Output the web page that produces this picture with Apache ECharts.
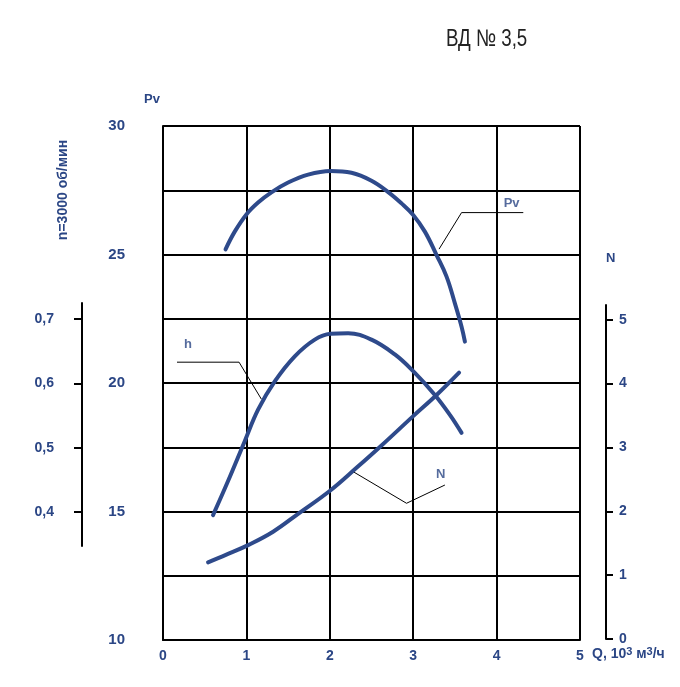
<!DOCTYPE html>
<html><head><meta charset="utf-8">
<script src="https://cdn.jsdelivr.net/npm/echarts@6/dist/echarts.min.js"></script>
<style>html,body{margin:0;padding:0;background:#fff}#c{width:680px;height:687px}</style>
</head><body><div id="c"></div>
<script>
// Data
const qTicks = [0, 1, 2, 3, 4, 5];
const pvTickLabels = [10, 15, 20, 25, 30];
const hTickLabels = [0.4, 0.5, 0.6, 0.7];
const nTickLabels = [0, 1, 2, 3, 4, 5];

const qPv = [0.75, 0.86, 1.0, 1.14, 1.3, 1.5, 1.74, 2.01, 2.26, 2.5, 2.7, 2.86, 3.0, 3.14, 3.28, 3.4, 3.5, 3.58, 3.62];
const pvVals = [25.2, 25.89, 26.56, 27.02, 27.42, 27.8, 28.11, 28.25, 28.18, 27.87, 27.43, 26.99, 26.54, 25.89, 24.98, 24.14, 23.1, 22.19, 21.61];

const qH = [0.6, 0.78, 0.98, 1.14, 1.34, 1.58, 1.82, 2.01, 2.22, 2.5, 2.78, 3.0, 3.26, 3.44, 3.58];
const hVals = [0.395, 0.448, 0.51, 0.559, 0.603, 0.642, 0.668, 0.677, 0.678, 0.668, 0.645, 0.619, 0.582, 0.551, 0.523];

const qN = [0.54, 0.76, 1.02, 1.32, 1.62, 2.01, 2.32, 2.62, 3.0, 3.28, 3.55];
const nVals = [1.2, 1.32, 1.47, 1.68, 1.96, 2.33, 2.68, 3.03, 3.49, 3.82, 4.17];

// leader lines (in Q / Pv coordinates)
const leaderPvQ = [4.32, 3.58, 3.31];
const leaderPvY = [26.63, 26.63, 25.21];
const leaderHQ = [0.168, 0.912, 1.18];
const leaderHY = [20.81, 20.81, 19.37];
const leaderNQ = [3.38, 2.92, 2.28];
const leaderNY = [16.03, 15.32, 16.55];
const curveLabels = ['Pv', 'h', 'N'];
const curveLabelQ = [4.18, 0.3, 3.33];
const curveLabelY = [27.0, 21.5, 16.45];

const BLUE = '#2b4685';
const CURVE = '#2e4a8b';
const FONT = 'Liberation Sans, Arial, sans-serif';

const zip = (a, b) => a.map((v, i) => [v, b[i]]);

const chart = echarts.init(document.getElementById('c'));
const lblStyle = {color: BLUE, fontWeight: 'bold', fontSize: 14, fontFamily: FONT};

chart.setOption({
  animation: false,
  graphic: [{
    type: 'text', x: 63, y: 190, rotation: Math.PI / 2,
    style: {text: 'n=3000 об/мин', fill: BLUE, font: 'bold 14px ' + FONT, align: 'center', verticalAlign: 'middle'}
  }, {
    type: 'text', x: 446, y: 39, scaleX: 0.78,
    style: {text: 'ВД № 3,5', fill: '#222', font: '24px ' + FONT, align: 'left', verticalAlign: 'middle'}
  }],
  grid: [
    {left: 163, right: 100, top: 126, bottom: 47},
    {left: 163, right: 100, top: 303, height: 243},
    {left: 163, right: 100, top: 305, bottom: 48}
  ],
  xAxis: [
    {gridIndex: 0, type: 'value', min: 0, max: 5, interval: 1,
     axisLine: {show: true, lineStyle: {color: '#000', width: 2}},
     axisTick: {show: false},
     splitLine: {show: true, lineStyle: {color: '#000', width: 2}},
     axisLabel: Object.assign({margin: 9, customValues: qTicks}, lblStyle),
     name: '{a|Q, 10}{s|3}{a| м}{s|3}{a|/ч}', nameLocation: 'end', nameGap: 12,
     nameTextStyle: {verticalAlign: 'top', padding: [6, 0, 0, 0],
       rich: {a: {color: BLUE, fontWeight: 'bold', fontSize: 14, fontFamily: FONT},
              s: {color: BLUE, fontWeight: 'bold', fontSize: 11, fontFamily: FONT, verticalAlign: 'top', padding: [0, 0, 6, 0]}}}
    },
    {gridIndex: 1, type: 'value', min: 0, max: 5, show: false},
    {gridIndex: 2, type: 'value', min: 0, max: 5, show: false}
  ],
  yAxis: [
    {gridIndex: 0, type: 'value', min: 10, max: 30, interval: 2.5, position: 'left',
     axisLine: {show: true, onZero: false, lineStyle: {color: '#000', width: 2}},
     axisTick: {show: false},
     splitLine: {show: true, lineStyle: {color: '#000', width: 2}},
     axisLabel: Object.assign({margin: 38, customValues: pvTickLabels}, lblStyle, {fontSize: 15}),
     name: 'Pv', nameLocation: 'end', nameGap: 20,
     nameTextStyle: {align: 'right', padding: [0, 3, 0, 0], color: BLUE, fontWeight: 'bold', fontSize: 13, fontFamily: FONT}
    },
    {gridIndex: 1, type: 'value', min: 0.347, max: 0.725, position: 'left', offset: 81,
     axisLine: {show: true, onZero: false, lineStyle: {color: '#000', width: 2}},
     axisTick: {show: true, length: 8, lineStyle: {color: '#000', width: 2}, customValues: hTickLabels},
     splitLine: {show: false},
     axisLabel: Object.assign({margin: 28, customValues: hTickLabels,
       formatter: v => v.toFixed(1).replace('.', ',')}, lblStyle)
    },
    {gridIndex: 2, type: 'value', min: 0, max: 5.23, position: 'right', offset: 26,
     axisLine: {show: true, onZero: false, lineStyle: {color: '#000', width: 2}},
     axisTick: {show: true, length: 7, lineStyle: {color: '#000', width: 2}, customValues: nTickLabels},
     splitLine: {show: false},
     axisLabel: Object.assign({margin: 13, customValues: nTickLabels}, lblStyle),
     name: 'N', nameLocation: 'end', nameGap: 40,
     nameTextStyle: {align: 'left', color: BLUE, fontWeight: 'bold', fontSize: 13, fontFamily: FONT}
    }
  ],
  series: [
    {type: 'line', xAxisIndex: 0, yAxisIndex: 0, data: zip(qPv, pvVals), smooth: 0.4, symbol: 'none',
     lineStyle: {color: CURVE, width: 4, cap: 'round'}, z: 5, clip: false},
    {type: 'line', xAxisIndex: 1, yAxisIndex: 1, data: zip(qH, hVals), smooth: 0.4, symbol: 'none',
     lineStyle: {color: CURVE, width: 4, cap: 'round'}, z: 5, clip: false},
    {type: 'line', xAxisIndex: 2, yAxisIndex: 2, data: zip(qN, nVals), smooth: 0.4, symbol: 'none',
     lineStyle: {color: CURVE, width: 4, cap: 'round'}, z: 5, clip: false},
    {type: 'line', xAxisIndex: 0, yAxisIndex: 0, data: zip(leaderPvQ, leaderPvY), symbol: 'none',
     lineStyle: {color: '#000', width: 1}, z: 4},
    {type: 'line', xAxisIndex: 0, yAxisIndex: 0, data: zip(leaderHQ, leaderHY), symbol: 'none',
     lineStyle: {color: '#000', width: 1}, z: 4},
    {type: 'line', xAxisIndex: 0, yAxisIndex: 0, data: zip(leaderNQ, leaderNY), symbol: 'none',
     lineStyle: {color: '#000', width: 1}, z: 4},
    {type: 'scatter', xAxisIndex: 0, yAxisIndex: 0, symbolSize: 0, z: 6,
     data: curveLabels.map((t, i) => ({value: [curveLabelQ[i], curveLabelY[i]], name: t})),
     label: {show: true, position: 'inside', formatter: p => p.name, color: BLUE, fontWeight: 'bold', fontSize: 13, fontFamily: FONT}}
  ]
});
</script></body></html>
